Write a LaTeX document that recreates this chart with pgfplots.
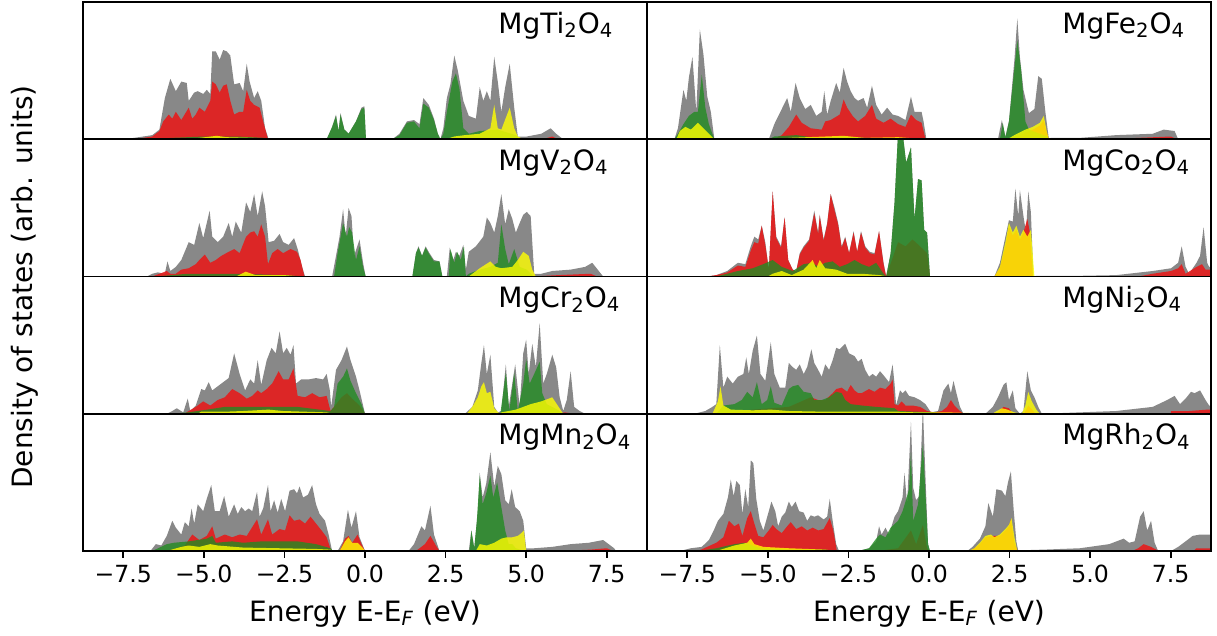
\documentclass[border=0pt]{standalone}
\usepackage{pgfplots}
\pgfplotsset{compat=1.18}
\usepackage{fontspec}
\setmainfont{DejaVu Sans}
\definecolor{cgray}{RGB}{136,136,136}
\definecolor{cred}{RGB}{230,28,28}
\definecolor{cgreen}{RGB}{34,139,34}
\definecolor{cyellow}{RGB}{255,255,0}
\pgfplotsset{
  dos/.style={scale only axis, width=282pt, height=68.625pt,
    xmin=-8.75, xmax=8.75, ymin=0, ymax=1, anchor=north west,
    ytick=\empty, xtick=\empty, axis on top=true,
    axis line style={line width=0.8pt, black}},
  bottomrow/.style={xtick={-7.5,-5,-2.5,0,2.5,5,7.5},
    xticklabels={−7.5,−5.0,−2.5,0.0,2.5,5.0,7.5},
    xtick pos=lower, tick align=outside, major tick length=3.5pt,
    major tick style={line width=0.8pt, black},
    xticklabel style={font=\fontsize{11.8}{13}\selectfont},
    xlabel={Energy E-E\textsubscript{\itshape F} (eV)},
    xlabel style={font=\fontsize{14}{16}\selectfont, at={(axis description cs:0.5,0)}, anchor=base, yshift=-35pt}},
}
\newcommand{\dospanel}[9]{%
\begin{axis}[dos, at={(#1,#2)}, #9]
\addplot[draw=none, fill=cgray] coordinates {#5} \closedcycle;
\addplot[draw=none, fill=cred, fill opacity=0.9] coordinates {#6} \closedcycle;
\addplot[draw=none, fill=cgreen, fill opacity=0.8] coordinates {#7} \closedcycle;
\addplot[draw=none, fill=cyellow, fill opacity=0.8] coordinates {#8} \closedcycle;
\node[anchor=base west, font=\fontsize{14}{16}\selectfont] at (axis cs:#4,0.774) {#3};
\end{axis}}
\begin{document}
\begin{tikzpicture}
% ---------------- MgTi2O4
\dospanel{0pt}{0pt}{MgTi\textsubscript{2}O\textsubscript{4}}{3.92}
{(-7.45,0) (-6.60,.03) (-6.38,.07) (-6.21,.30) (-6.04,.44) (-5.87,.35) (-5.70,.42) (-5.53,.41) (-5.47,.28) (-5.30,.34) (-5.19,.35) (-5.02,.33) (-4.91,.36) (-4.80,.33) (-4.74,.64) (-4.63,.64) (-4.51,.58) (-4.40,.65) (-4.29,.64) (-4.18,.61) (-4.06,.40) (-3.89,.41) (-3.78,.35) (-3.67,.55) (-3.58,.42) (-3.44,.30) (-3.33,.35) (-3.22,.28) (-3.10,.08) (-2.99,0) (-1.19,0) (-1.02,.09) (-0.90,.18) (-0.82,.06) (-0.76,.19) (-0.64,.07) (-0.51,.04) (-0.28,.13) (-0.11,.23) (-0.02,.24) (0.03,0) (0.85,0) (1.07,.04) (1.30,.13) (1.52,.14) (1.69,.11) (1.81,.30) (1.98,.25) (2.14,.15) (2.26,.04) (2.34,0) (2.43,.08) (2.54,.30) (2.65,.40) (2.77,.61) (2.88,.50) (3.05,.28) (3.22,.17) (3.44,.15) (3.56,.38) (3.67,.28) (3.78,.35) (3.89,.28) (4.01,.60) (4.12,.42) (4.23,.20) (4.35,.38) (4.49,.55) (4.63,.23) (4.74,.02) (5.02,.02) (5.47,.04) (5.76,.08) (5.93,.04) (6.15,0)}
{(-7.17,0) (-6.60,.02) (-6.38,.06) (-6.26,.13) (-6.09,.18) (-5.98,.15) (-5.87,.20) (-5.70,.14) (-5.47,.23) (-5.36,.15) (-5.25,.18) (-5.14,.23) (-4.97,.20) (-4.80,.28) (-4.74,.42) (-4.63,.40) (-4.51,.34) (-4.40,.39) (-4.29,.40) (-4.18,.28) (-4.06,.18) (-3.89,.20) (-3.78,.20) (-3.67,.36) (-3.56,.28) (-3.44,.25) (-3.27,.23) (-3.16,.13) (-3.01,0) (5.5,0) (5.81,.02) (6.0,0)}
{(-6.6,0) (-6.0,.01) (-5,.02) (-4,.02) (-3.1,.01) (-3.0,0) (-1.19,0) (-1.02,.09) (-0.90,.17) (-0.82,.06) (-0.76,.18) (-0.64,.07) (-0.51,.04) (-0.28,.13) (-0.11,.22) (-0.02,.23) (0.03,0) (0.85,0) (1.07,.03) (1.30,.12) (1.52,.13) (1.69,.08) (1.81,.26) (1.98,.23) (2.14,.14) (2.26,.04) (2.34,0) (2.43,.04) (2.54,.20) (2.71,.42) (2.82,.48) (2.93,.37) (3.05,.08) (3.22,.04) (3.56,.06) (4.12,.07) (4.68,.03) (4.80,0)}
{(-5.5,0) (-4.6,.025) (-4.3,.015) (-3.5,.01) (-3.0,0) (2.5,0) (2.77,.02) (3.10,.03) (3.56,.04) (3.89,.08) (4.01,.25) (4.12,.08) (4.23,.07) (4.49,.23) (4.63,.08) (4.74,.02) (4.91,0)}
{}
% ---------------- MgFe2O4
\dospanel{282pt}{0pt}{MgFe\textsubscript{2}O\textsubscript{4}}{3.92}
{(-7.90,0) (-7.79,.08) (-7.62,.36) (-7.53,.28) (-7.45,.45) (-7.34,.60) (-7.22,.20) (-7.11,.80) (-7.00,.62) (-6.88,.31) (-6.77,.20) (-6.66,0) (-4.97,0) (-4.80,.11) (-4.57,.22) (-4.40,.30) (-4.29,.20) (-4.14,.41) (-4.01,.30) (-3.84,.22) (-3.67,.25) (-3.50,.17) (-3.33,.20) (-3.25,.35) (-3.16,.18) (-3.05,.28) (-2.88,.41) (-2.77,.34) (-2.65,.52) (-2.54,.42) (-2.43,.35) (-2.31,.30) (-2.20,.28) (-2.03,.30) (-1.92,.23) (-1.77,.39) (-1.64,.25) (-1.47,.18) (-1.30,.23) (-1.13,.18) (-0.96,.17) (-0.73,.14) (-0.56,.31) (-0.45,.20) (-0.23,.20) (-0.17,.13) (-0.08,0) (2.14,0) (2.26,.14) (2.37,.02) (2.48,.13) (2.65,.58) (2.74,.88) (2.82,.60) (2.93,.36) (3.10,.19) (3.27,.22) (3.39,.46) (3.50,.44) (3.61,.20) (3.72,0) (3.78,.01) (4.68,.01) (5.81,.03) (6.94,.04) (7.28,.07) (7.62,.06) (7.73,0)}
{(-4.80,0) (-4.57,.03) (-4.35,.09) (-4.12,.18) (-3.95,.12) (-3.67,.08) (-3.33,.07) (-3.22,.13) (-3.05,.14) (-2.77,.18) (-2.65,.29) (-2.54,.23) (-2.37,.17) (-2.20,.13) (-1.98,.17) (-1.77,.25) (-1.64,.15) (-1.41,.12) (-1.19,.15) (-0.96,.11) (-0.73,.09) (-0.56,.18) (-0.40,.14) (-0.23,.12) (-0.11,0) (2.6,0) (2.99,.05) (3.22,.07) (3.44,.10) (3.56,.14) (3.65,.05) (3.72,0) (3.8,0) (6,.005) (7.5,.02) (7.7,0)}
{(-7.90,0) (-7.79,.04) (-7.62,.11) (-7.45,.17) (-7.28,.20) (-7.17,.20) (-7.05,.47) (-6.94,.23) (-6.83,.11) (-6.66,0) (-4.97,0) (-4.80,.02) (-4.12,.03) (-3.5,.01) (-2.65,.02) (-2.0,.01) (-0.1,0) (2.20,0) (2.29,.12) (2.37,.01) (2.48,.13) (2.65,.52) (2.74,.72) (2.86,.50) (2.99,.13) (3.10,.07) (3.44,.04) (3.67,.02) (3.72,0)}
{(-7.84,0) (-7.73,.06) (-7.56,.09) (-7.39,.07) (-7.17,.12) (-7.00,.08) (-6.83,.04) (-6.66,0) (-4.5,0) (-4.35,.01) (-2.65,.025) (-2,.01) (-0.96,.015) (-0.1,0) (2.43,0) (2.65,.03) (2.99,.07) (3.22,.09) (3.44,.12) (3.56,.17) (3.65,.06) (3.72,0)}
{}
% ---------------- MgV2O4
\dospanel{0pt}{-68.625pt}{MgV\textsubscript{2}O\textsubscript{4}}{3.92}
{(-6.77,0) (-6.60,.02) (-6.43,.03) (-6.21,.02) (-6.13,.11) (-6.04,.04) (-5.87,.07) (-5.70,.12) (-5.47,.25) (-5.30,.23) (-5.14,.39) (-5.02,.28) (-4.82,.48) (-4.74,.29) (-4.57,.25) (-4.40,.29) (-4.23,.39) (-4.12,.29) (-4.01,.40) (-3.84,.32) (-3.69,.54) (-3.56,.47) (-3.44,.60) (-3.33,.44) (-3.19,.62) (-3.10,.51) (-2.99,.25) (-2.82,.26) (-2.65,.31) (-2.54,.25) (-2.37,.23) (-2.20,.28) (-2.09,.20) (-1.95,.07) (-1.86,0) (-1.02,0) (-0.90,.15) (-0.79,.29) (-0.68,.49) (-0.60,.29) (-0.51,.50) (-0.42,.44) (-0.34,.15) (-0.17,.27) (-0.06,.10) (0.02,0) (1.47,0) (1.58,.17) (1.66,.22) (1.77,.15) (1.88,.22) (2.00,.17) (2.14,.12) (2.31,.11) (2.40,0) (2.54,0) (2.63,.21) (2.74,.12) (2.82,.18) (2.93,.15) (3.05,.23) (3.13,.05) (3.22,.18) (3.44,.22) (3.67,.29) (3.78,.43) (3.89,.39) (4.01,.32) (4.12,.44) (4.23,.60) (4.35,.38) (4.46,.49) (4.57,.42) (4.68,.32) (4.80,.39) (4.91,.45) (5.02,.47) (5.14,.44) (5.25,.02) (5.47,.02) (5.81,.04) (6.38,.05) (6.83,.07) (7.05,.10) (7.22,.05) (7.39,0)}
{(-6.60,0) (-6.15,.04) (-6.04,.02) (-5.87,.02) (-5.70,.05) (-5.47,.06) (-5.25,.09) (-5.14,.12) (-4.97,.16) (-4.80,.10) (-4.63,.12) (-4.46,.15) (-4.23,.18) (-4.06,.20) (-3.89,.17) (-3.69,.29) (-3.56,.32) (-3.44,.33) (-3.33,.29) (-3.22,.38) (-3.10,.29) (-3.01,.09) (-2.88,.17) (-2.71,.20) (-2.54,.17) (-2.31,.20) (-2.11,.18) (-2.00,.12) (-1.88,0) (5.2,0) (6,.01) (7,.02) (7.2,0)}
{(-6.5,0) (-5.5,.02) (-4,.02) (-2.5,.01) (-1.9,0) (-0.96,0) (-0.85,.17) (-0.68,.39) (-0.56,.29) (-0.49,.36) (-0.40,.32) (-0.28,.12) (-0.17,.22) (-0.06,.07) (0.02,0) (1.47,0) (1.58,.17) (1.66,.21) (1.77,.15) (1.88,.21) (2.00,.16) (2.14,.11) (2.31,.11) (2.40,0) (2.60,0) (2.65,.20) (2.77,.10) (2.86,.18) (2.97,.12) (3.07,.22) (3.13,0) (3.22,.02) (3.56,.05) (3.89,.07) (4.12,.10) (4.23,.38) (4.35,.20) (4.46,.09) (4.63,.20) (4.80,.07) (5.02,.05) (5.23,0)}
{(-4.0,0) (-3.7,.035) (-3.4,.01) (-2.5,.01) (-2,0) (3.22,0) (3.56,.06) (3.89,.11) (4.06,.07) (4.23,.06) (4.57,.07) (4.74,.12) (4.91,.18) (5.08,.15) (5.19,.05) (5.30,0)}
{}
% ---------------- MgCo2O4
\dospanel{282pt}{-68.625pt}{MgCo\textsubscript{2}O\textsubscript{4}}{3.92}
{(-6.88,0) (-6.60,.01) (-6.26,.04) (-5.93,.10) (-5.70,.09) (-5.53,.22) (-5.42,.29) (-5.30,.27) (-5.19,.37) (-5.08,.25) (-4.97,.05) (-4.85,.62) (-4.74,.29) (-4.59,.22) (-4.48,.43) (-4.37,.12) (-4.23,.05) (-4.12,.04) (-4.01,.17) (-3.89,.22) (-3.72,.27) (-3.56,.48) (-3.44,.32) (-3.39,.45) (-3.27,.27) (-3.16,.39) (-3.05,.60) (-2.93,.50) (-2.82,.39) (-2.71,.22) (-2.60,.29) (-2.48,.17) (-2.34,.33) (-2.23,.18) (-2.11,.33) (-1.98,.22) (-1.84,.18) (-1.69,.17) (-1.55,.33) (-1.41,.10) (-1.33,0) (-1.19,.17) (-1.07,.54) (-0.96,1.05) (-0.82,1.05) (-0.71,.83) (-0.56,.94) (-0.45,.42) (-0.34,.71) (-0.23,.70) (-0.15,.34) (-0.06,.32) (0.03,0) (2.03,0) (2.20,.10) (2.37,.29) (2.48,.41) (2.60,.40) (2.68,.64) (2.77,.44) (2.82,.63) (2.93,.44) (3.01,.32) (3.08,.62) (3.16,.47) (3.24,0) (3.33,.005) (4.68,.005) (5.81,.01) (6.94,.04) (7.51,.06) (7.73,.10) (7.84,.22) (7.96,.07) (8.07,.02) (8.30,.10) (8.41,.15) (8.52,.36) (8.63,.10) (8.69,.07) (8.75,.07)}
{(-6.88,0) (-6.60,.01) (-6.26,.03) (-5.93,.08) (-5.70,.07) (-5.53,.19) (-5.42,.25) (-5.30,.24) (-5.19,.37) (-5.08,.23) (-4.97,.05) (-4.85,.62) (-4.74,.28) (-4.59,.21) (-4.48,.43) (-4.37,.12) (-4.23,.05) (-4.12,.04) (-4.01,.16) (-3.89,.21) (-3.72,.26) (-3.56,.46) (-3.44,.31) (-3.39,.44) (-3.27,.26) (-3.16,.38) (-3.05,.60) (-2.93,.48) (-2.82,.38) (-2.71,.21) (-2.60,.28) (-2.48,.17) (-2.34,.32) (-2.23,.18) (-2.11,.32) (-1.98,.21) (-1.84,.17) (-1.69,.16) (-1.55,.33) (-1.41,.09) (-1.33,0) (-0.96,.25) (-0.73,.22) (-0.51,.27) (-0.28,.22) (-0.06,.17) (0.03,0) (2.03,0) (2.20,.06) (2.37,.22) (2.48,.36) (2.60,.30) (2.71,.34) (2.82,.27) (2.93,.32) (3.05,.42) (3.13,.32) (3.22,0) (6.5,0) (6.94,.02) (7.51,.04) (7.73,.06) (7.84,.09) (7.96,.02) (8.30,.07) (8.47,.09) (8.58,.05) (8.75,.05)}
{(-6.60,0) (-5.93,.04) (-5.47,.06) (-5.14,.09) (-4.85,.12) (-4.57,.07) (-4.23,.04) (-3.89,.09) (-3.61,.10) (-3.44,.07) (-3.22,.10) (-2.99,.11) (-2.77,.07) (-2.54,.09) (-2.31,.12) (-2.09,.09) (-1.86,.07) (-1.64,.10) (-1.41,.02) (-1.33,0) (-1.19,.17) (-1.07,.54) (-0.96,1.05) (-0.82,1.05) (-0.71,.83) (-0.56,.94) (-0.45,.42) (-0.34,.71) (-0.23,.70) (-0.15,.34) (-0.06,.32) (0.03,0)}
{(-5.0,0) (-4.85,.02) (-4.57,.04) (-4.26,.01) (-3.89,.05) (-3.61,.12) (-3.50,.06) (-3.39,.12) (-3.22,.06) (-2.88,.05) (-2.54,.02) (-2.09,.02) (-1.52,.01) (-1.3,0) (2.03,0) (2.20,.07) (2.37,.25) (2.48,.39) (2.60,.32) (2.71,.37) (2.82,.29) (2.93,.34) (3.05,.29) (3.16,.34) (3.27,0)}
{}
% ---------------- MgCr2O4
\dospanel{0pt}{-137.25pt}{MgCr\textsubscript{2}O\textsubscript{4}}{3.92}
{(-6.15,0) (-5.98,.02) (-5.84,.04) (-5.64,.01) (-5.50,.11) (-5.42,.02) (-5.25,.06) (-5.08,.18) (-4.97,.17) (-4.85,.23) (-4.74,.17) (-4.57,.20) (-4.40,.23) (-4.23,.26) (-4.06,.44) (-3.89,.29) (-3.72,.17) (-3.56,.25) (-3.44,.22) (-3.33,.39) (-3.22,.21) (-3.05,.39) (-2.90,.48) (-2.77,.44) (-2.65,.60) (-2.54,.44) (-2.43,.48) (-2.31,.43) (-2.22,.50) (-2.14,.22) (-1.98,.25) (-1.75,.25) (-1.52,.26) (-1.30,.25) (-1.19,.29) (-1.09,.17) (-1.05,.05) (-0.90,.32) (-0.73,.39) (-0.56,.49) (-0.45,.39) (-0.28,.27) (-0.17,.17) (0.00,0) (3.10,0) (3.33,.05) (3.50,.17) (3.61,.37) (3.69,.50) (3.78,.29) (3.89,.43) (4.01,.05) (4.12,.01) (4.23,.02) (4.37,.36) (4.46,.05) (4.57,.22) (4.66,.36) (4.80,.05) (4.91,.44) (5.00,.54) (5.08,.29) (5.19,.51) (5.30,.34) (5.42,.66) (5.53,.22) (5.64,.29) (5.81,.43) (5.93,.34) (6.04,.12) (6.15,.02) (6.26,.10) (6.38,.31) (6.49,.05) (6.66,.02) (6.83,0)}
{(-5.6,0) (-5.47,.02) (-5.25,.05) (-5.02,.09) (-4.80,.06) (-4.57,.10) (-4.35,.12) (-4.12,.18) (-3.89,.15) (-3.67,.11) (-3.50,.13) (-3.33,.17) (-3.22,.15) (-3.05,.18) (-2.88,.22) (-2.68,.31) (-2.54,.25) (-2.37,.25) (-2.22,.33) (-2.09,.13) (-1.86,.12) (-1.64,.15) (-1.41,.12) (-1.19,.13) (-1.07,.02) (-0.96,.05) (-0.73,.12) (-0.56,.15) (-0.40,.11) (-0.17,.06) (0.00,0) (6.0,0) (6.2,.01) (6.5,0)}
{(-6.0,0) (-5.5,.01) (-4.9,.03) (-4.35,.05) (-3.2,.05) (-2.1,.05) (-1.07,.02) (-0.96,.05) (-0.85,.22) (-0.68,.27) (-0.56,.33) (-0.45,.24) (-0.28,.15) (-0.11,.07) (0.00,0) (4.2,0) (4.37,.30) (4.48,.02) (4.63,.30) (4.74,.02) (4.91,.22) (5.00,.40) (5.11,.22) (5.25,.29) (5.42,.38) (5.50,.15) (5.64,.07) (5.81,.05) (6.04,.02) (6.15,0)}
{(-5.2,0) (-5.08,.015) (-4.35,.015) (-3.78,.02) (-2.99,.03) (-2.54,.02) (-1.86,.015) (-1.19,.01) (-1.0,0) (3.16,0) (3.33,.05) (3.50,.12) (3.61,.20) (3.69,.23) (3.78,.15) (3.89,.16) (4.01,.04) (4.18,0) (4.23,.01) (4.68,.03) (5.14,.07) (5.47,.09) (5.70,.11) (5.81,.12) (5.98,.06) (6.15,0)}
{}
% ---------------- MgNi2O4
\dospanel{282pt}{-137.25pt}{MgNi\textsubscript{2}O\textsubscript{4}}{3.92}
{(-7.28,0) (-6.94,.02) (-6.72,.05) (-6.60,.07) (-6.49,.50) (-6.38,.19) (-6.26,.27) (-6.09,.22) (-5.93,.27) (-5.76,.29) (-5.67,.41) (-5.59,.29) (-5.47,.46) (-5.34,.57) (-5.23,.29) (-5.08,.24) (-4.91,.52) (-4.80,.29) (-4.63,.19) (-4.46,.19) (-4.35,.37) (-4.23,.34) (-4.12,.32) (-4.01,.36) (-3.89,.29) (-3.78,.34) (-3.65,.47) (-3.56,.37) (-3.44,.32) (-3.33,.27) (-3.22,.36) (-3.10,.32) (-2.99,.39) (-2.88,.48) (-2.77,.47) (-2.60,.51) (-2.48,.44) (-2.31,.42) (-2.20,.38) (-2.09,.40) (-1.98,.32) (-1.86,.27) (-1.75,.29) (-1.64,.27) (-1.52,.31) (-1.41,.28) (-1.24,.23) (-1.13,.36) (-1.07,.22) (-1.02,.06) (-0.90,.17) (-0.82,.15) (-0.73,.17) (-0.62,.13) (-0.45,.12) (-0.28,.10) (-0.11,.07) (0.06,.01) (0.28,.02) (0.45,.17) (0.60,.22) (0.68,.15) (0.76,.24) (0.85,.15) (0.96,.05) (1.07,0) (1.75,0) (1.98,.05) (2.14,.12) (2.31,.21) (2.40,.23) (2.48,.10) (2.60,.17) (2.68,.04) (2.82,0) (2.93,.02) (3.05,.31) (3.16,.17) (3.27,.12) (3.39,.05) (3.50,0) (4.68,.01) (5.81,.02) (6.94,.05) (7.39,.10) (7.62,.13) (7.79,.07) (7.96,.11) (8.13,.16) (8.24,.15) (8.41,.17) (8.58,.10) (8.69,.06) (8.75,.06)}
{(-6.60,0) (-5.47,.03) (-4.35,.05) (-3.67,.12) (-3.44,.10) (-3.22,.10) (-2.99,.15) (-2.88,.18) (-2.71,.19) (-2.54,.16) (-2.43,.21) (-2.31,.17) (-2.20,.15) (-2.09,.15) (-1.86,.18) (-1.69,.16) (-1.52,.19) (-1.35,.18) (-1.19,.22) (-1.13,.25) (-1.07,.07) (-0.96,.06) (-0.85,.09) (-0.73,.06) (-0.51,.06) (-0.28,.05) (-0.06,.02) (0.17,.01) (0.40,.02) (0.56,.05) (0.68,.10) (0.79,.06) (0.96,.02) (1.07,0) (2.1,0) (2.31,.05) (2.48,.04) (2.6,0) (2.95,0) (3.08,.06) (3.2,.03) (3.3,0) (7.5,0) (7.51,.02) (8.07,.02) (8.63,.03) (8.75,.03)}
{(-6.60,0) (-6.38,.06) (-6.04,.07) (-5.81,.10) (-5.64,.16) (-5.47,.12) (-5.34,.23) (-5.19,.07) (-5.02,.10) (-4.91,.20) (-4.80,.08) (-4.57,.06) (-4.35,.18) (-4.23,.20) (-4.06,.21) (-3.89,.16) (-3.67,.15) (-3.56,.10) (-3.33,.10) (-3.10,.12) (-2.88,.16) (-2.71,.15) (-2.60,.10) (-2.43,.07) (-2.09,.06) (-1.64,.05) (-1.07,.04) (-0.96,.02) (0.17,.01) (0.5,0)}
{(-6.72,0) (-6.55,.09) (-6.47,.20) (-6.38,.06) (-6.15,.03) (-5.47,.025) (-4.91,.03) (-4.35,.02) (-3.22,.015) (-2.09,.015) (-0.96,.015) (-0.40,.01) (0.60,.01) (2.0,0) (2.03,.01) (2.26,.04) (2.43,.03) (2.65,.01) (2.88,0) (2.99,.06) (3.08,.16) (3.19,.09) (3.33,.03) (3.44,0)}
{}
% ---------------- MgMn2O4
\dospanel{0pt}{-205.875pt}{MgMn\textsubscript{2}O\textsubscript{4}}{3.92}
{(-6.66,0) (-6.49,.05) (-6.32,.04) (-6.15,.11) (-5.98,.22) (-5.87,.17) (-5.70,.12) (-5.59,.21) (-5.47,.18) (-5.38,.31) (-5.30,.20) (-5.19,.34) (-5.02,.29) (-4.91,.38) (-4.77,.48) (-4.66,.29) (-4.51,.29) (-4.37,.40) (-4.23,.25) (-4.06,.34) (-3.95,.27) (-3.84,.32) (-3.72,.29) (-3.61,.31) (-3.50,.29) (-3.35,.43) (-3.27,.25) (-3.16,.31) (-3.01,.48) (-2.93,.29) (-2.82,.37) (-2.71,.28) (-2.60,.38) (-2.48,.29) (-2.34,.44) (-2.20,.45) (-2.11,.42) (-2.03,.47) (-1.92,.39) (-1.77,.41) (-1.64,.48) (-1.52,.34) (-1.41,.27) (-1.24,.22) (-1.13,.12) (-1.02,0) (-0.85,0) (-0.68,.07) (-0.53,.30) (-0.42,.17) (-0.28,.29) (-0.17,.10) (0.00,0) (1.35,0) (1.52,.05) (1.75,.18) (1.86,.15) (2.03,.33) (2.14,.12) (2.31,0) (3.22,0) (3.30,.15) (3.39,.02) (3.50,.29) (3.56,.57) (3.65,.39) (3.76,.49) (3.89,.72) (4.01,.47) (4.12,.62) (4.23,.56) (4.35,.37) (4.46,.34) (4.55,.45) (4.66,.32) (4.80,.29) (4.91,.22) (5.00,.02) (5.25,.02) (5.81,.03) (6.38,.05) (6.94,.06) (7.39,.08) (7.73,.02) (7.79,0)}
{(-6.15,0) (-5.59,.04) (-5.36,.12) (-5.14,.08) (-4.91,.11) (-4.74,.18) (-4.63,.09) (-4.35,.12) (-4.12,.10) (-3.89,.12) (-3.67,.11) (-3.35,.23) (-3.22,.12) (-3.01,.23) (-2.88,.12) (-2.65,.16) (-2.48,.15) (-2.34,.26) (-2.20,.22) (-2.03,.23) (-1.86,.20) (-1.69,.25) (-1.52,.20) (-1.35,.15) (-1.19,.10) (-1.05,0) (-0.79,0) (-0.62,.09) (-0.51,.11) (-0.40,.06) (-0.23,.12) (-0.11,.05) (0.00,0) (1.58,0) (1.86,.05) (2.03,.11) (2.20,.04) (2.31,0) (6,0) (7.0,.01) (7.5,.02) (7.7,0)}
{(-6.60,0) (-6.15,.05) (-5.93,.06) (-5.47,.07) (-4.91,.09) (-4.74,.11) (-4.63,.06) (-4.12,.07) (-3.78,.06) (-3.22,.07) (-2.65,.07) (-2.09,.07) (-1.52,.05) (-1.07,.02) (-1.0,0) (3.24,0) (3.30,.15) (3.39,.02) (3.47,.22) (3.56,.55) (3.65,.34) (3.76,.42) (3.89,.55) (3.98,.39) (4.10,.50) (4.23,.32) (4.35,.15) (4.46,.05) (4.57,.05) (4.68,.02) (4.97,0)}
{(-6.15,0) (-5.70,.03) (-5.47,.04) (-5.14,.03) (-4.80,.05) (-4.57,.04) (-3.78,.025) (-2.65,.02) (-1.52,.015) (-1.07,.01) (-1.0,0) (-0.79,0) (-0.62,.07) (-0.51,.10) (-0.40,.06) (-0.23,.06) (-0.06,.02) (0,0) (3.44,0) (3.56,.05) (3.78,.04) (4.01,.06) (4.23,.09) (4.40,.10) (4.57,.10) (4.74,.11) (4.85,.13) (4.93,.15) (5.00,0)}
{bottomrow}
% ---------------- MgRh2O4
\dospanel{282pt}{-205.875pt}{MgRh\textsubscript{2}O\textsubscript{4}}{3.92}
{(-7.73,0) (-7.39,.02) (-7.05,.03) (-6.83,.08) (-6.66,.16) (-6.55,.22) (-6.38,.27) (-6.24,.39) (-6.15,.52) (-6.06,.40) (-5.98,.51) (-5.87,.48) (-5.79,.27) (-5.70,.45) (-5.61,.32) (-5.53,.66) (-5.45,.64) (-5.36,.38) (-5.25,.22) (-5.14,.15) (-4.97,.29) (-4.89,.36) (-4.77,.29) (-4.68,.18) (-4.57,.25) (-4.46,.28) (-4.35,.36) (-4.26,.32) (-4.14,.36) (-4.03,.29) (-3.89,.28) (-3.78,.22) (-3.67,.26) (-3.56,.25) (-3.44,.26) (-3.27,.23) (-3.16,.25) (-3.08,.38) (-2.99,.22) (-2.88,.05) (-2.79,0) (-2.20,0) (-1.86,.02) (-1.64,.07) (-1.55,.18) (-1.47,.12) (-1.35,.17) (-1.24,.12) (-1.07,.25) (-0.96,.29) (-0.82,.39) (-0.76,.57) (-0.68,.34) (-0.56,.94) (-0.49,.46) (-0.40,.37) (-0.30,.40) (-0.19,1.05) (-0.11,.54) (-0.03,.05) (0.03,0) (1.19,0) (1.35,.03) (1.58,.09) (1.75,.18) (1.84,.35) (1.98,.25) (2.09,.45) (2.26,.44) (2.37,.40) (2.45,.50) (2.54,.58) (2.63,.29) (2.71,.07) (2.77,0) (2.82,.005) (3.56,.01) (4.68,.02) (5.59,.05) (6.04,.09) (6.21,.06) (6.38,.07) (6.55,.25) (6.66,.29) (6.77,.15) (6.89,.22) (7.00,.06) (7.11,0) (7.51,0) (7.73,.03) (7.96,.07) (8.18,.11) (8.41,.12) (8.75,.12)}
{(-7.17,0) (-6.60,.06) (-6.38,.10) (-6.21,.22) (-6.04,.18) (-5.90,.20) (-5.79,.11) (-5.64,.24) (-5.53,.29) (-5.42,.20) (-5.30,.11) (-5.14,.10) (-4.97,.15) (-4.85,.19) (-4.74,.16) (-4.57,.13) (-4.40,.18) (-4.29,.21) (-4.12,.16) (-3.95,.18) (-3.78,.15) (-3.61,.17) (-3.44,.15) (-3.27,.16) (-3.08,.24) (-2.97,.15) (-2.86,0) (-1.6,0) (-0.96,.02) (-0.56,.15) (-0.40,.05) (-0.19,.19) (-0.06,.02) (0,0) (1.3,0) (1.58,.05) (1.75,.10) (1.92,.11) (2.20,.11) (2.37,.15) (2.48,.18) (2.54,.23) (2.65,.06) (2.75,0) (6.3,0) (6.49,.02) (6.66,.05) (6.89,.03) (7.05,.01) (7.2,0) (8.2,0) (8.30,.02) (8.75,.02)}
{(-7.2,0) (-6.60,.02) (-6.04,.05) (-5.70,.06) (-5.25,.02) (-4.35,.01) (-3.22,.01) (-2.9,0) (-2.20,0) (-1.86,.02) (-1.64,.09) (-1.52,.12) (-1.35,.10) (-1.19,.17) (-0.96,.22) (-0.82,.29) (-0.73,.36) (-0.62,.45) (-0.56,.72) (-0.49,.22) (-0.34,.34) (-0.19,.78) (-0.11,.42) (-0.03,.05) (0.03,0)}
{(-6.60,0) (-6.04,.04) (-5.64,.06) (-5.53,.09) (-5.42,.05) (-5.14,.03) (-4.35,.02) (-3.22,.01) (-2.9,0) (1.24,0) (1.41,.02) (1.58,.06) (1.75,.11) (1.92,.12) (2.03,.10) (2.20,.12) (2.37,.16) (2.48,.19) (2.56,.24) (2.65,.10) (2.74,0)}
{bottomrow}
\node[rotate=90, font=\fontsize{14}{16}\selectfont] at (-29pt,-142.5pt) {Density of states (arb. units)};
\pgfresetboundingbox
\path (-41.5pt,1pt) rectangle (567pt,-317pt);
\end{tikzpicture}
\end{document}
